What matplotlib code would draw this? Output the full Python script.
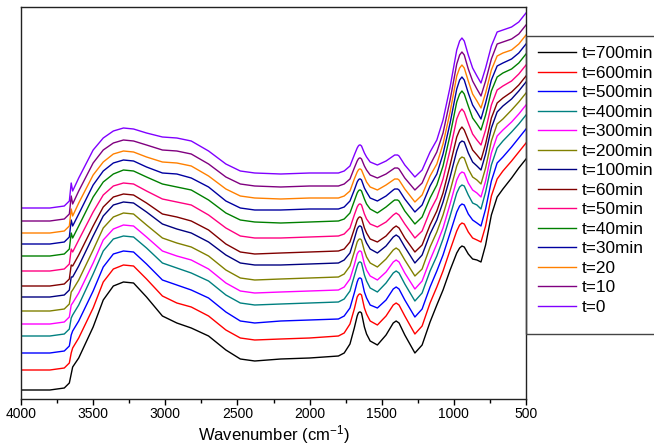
"""
plot.py

Stacked FTIR spectra recorded at different reaction times.
"""

import matplotlib
matplotlib.use('Agg')
import matplotlib.pyplot as plt
from matplotlib.patches import Rectangle

# ===== DATA =====
# wavenumber grid (cm-1) shared by all spectra
wavenumber = [4000, 3800, 3700, 3665, 3652, 3642, 3600, 3500, 3430, 3360,
              3290, 3220, 3130, 3020, 2920, 2820, 2700, 2580, 2480, 2380,
              2200, 2000,
              1800, 1760, 1720, 1690, 1670, 1662, 1655, 1648, 1640, 1620,
              1605, 1580, 1530, 1470, 1420, 1410, 1400, 1390, 1380, 1340, 1270,
              1220, 1165, 1118, 1075, 1026, 980, 960, 944, 928, 900,
              870, 840, 812, 780, 740, 700, 660, 600, 550, 500]

# absorbance (a.u. x100)
abs_t700 = [0, 0, 2, 7, 16, 23, 32, 63, 90, 104,
            108, 107, 93, 74, 67, 62, 54, 40, 31, 29, 31, 32,
            34, 37, 46, 62, 74, 77, 78, 78, 77, 63,
            56, 49, 45, 55, 67, 68, 69, 68, 67, 55, 37,
            45, 68, 85, 100, 120, 137, 142, 144, 143, 136,
            131, 130, 128, 145, 175, 193, 201, 212, 222, 231]
abs_t600 = [0, 0, 2, 7, 17, 22, 32, 62, 88, 101,
            105, 104, 91, 74, 67, 63, 54, 40, 32, 30, 31, 32,
            34, 37, 46, 61, 73, 75, 76, 76, 75, 62,
            56, 49, 45, 54, 65, 66, 67, 66, 65, 54, 36,
            44, 67, 83, 99, 120, 139, 145, 147, 146, 138,
            132, 130, 128, 144, 174, 191, 199, 209, 218, 227]
abs_t500 = [0, 0, 2, 7, 18, 22, 32, 62, 86, 99,
            102, 101, 89, 73, 68, 63, 55, 41, 32, 30, 32, 33,
            34, 37, 45, 60, 71, 74, 75, 75, 74, 61,
            55, 48, 45, 53, 64, 65, 66, 65, 64, 53, 36,
            44, 66, 82, 98, 120, 141, 147, 149, 148, 139,
            133, 130, 127, 144, 172, 190, 196, 206, 215, 224]
abs_t400 = [0, 0, 2, 7, 18, 21, 31, 62, 85, 97,
            100, 99, 88, 73, 68, 63, 55, 41, 33, 31, 32, 33,
            34, 37, 45, 60, 70, 73, 74, 74, 73, 61,
            55, 48, 44, 53, 63, 64, 65, 64, 63, 52, 35,
            43, 65, 80, 97, 120, 143, 149, 151, 150, 141,
            133, 131, 127, 144, 171, 188, 195, 204, 212, 221]
abs_t300 = [0, 0, 2, 7, 19, 21, 31, 61, 84, 95,
            99, 98, 87, 73, 68, 64, 55, 41, 33, 31, 32, 33,
            34, 37, 45, 59, 70, 72, 73, 73, 72, 60,
            54, 48, 44, 52, 62, 63, 64, 63, 62, 51, 35,
            43, 64, 80, 96, 120, 144, 150, 152, 151, 141,
            134, 131, 127, 143, 171, 188, 194, 202, 210, 219]
abs_t200 = [0, 0, 2, 7, 19, 21, 31, 61, 83, 94,
            98, 97, 86, 73, 68, 64, 55, 41, 33, 31, 32, 33,
            34, 37, 45, 59, 69, 71, 72, 72, 71, 60,
            54, 48, 44, 52, 61, 62, 63, 62, 61, 51, 35,
            42, 64, 79, 96, 120, 145, 152, 154, 153, 142,
            134, 131, 127, 143, 170, 187, 192, 201, 209, 218]
abs_t100 = [0, 0, 2, 7, 20, 20, 31, 61, 81, 92,
            95, 94, 85, 73, 68, 64, 55, 42, 34, 32, 32, 33,
            34, 37, 44, 58, 68, 70, 71, 71, 70, 59,
            54, 48, 44, 51, 60, 61, 62, 61, 60, 50, 34,
            42, 63, 77, 95, 120, 146, 154, 156, 155, 144,
            135, 131, 127, 143, 169, 185, 191, 198, 206, 215]
abs_t60 = [0, 0, 2, 7, 21, 20, 31, 60, 79, 89,
           92, 91, 83, 72, 69, 65, 56, 42, 34, 32, 33, 34,
           35, 37, 44, 57, 66, 68, 69, 69, 68, 58,
           53, 47, 44, 50, 58, 59, 60, 59, 58, 48, 34,
           41, 61, 75, 93, 121, 149, 156, 159, 156, 146,
           136, 131, 126, 142, 168, 183, 188, 194, 201, 210]
abs_t50 = [0, 0, 2, 7, 22, 19, 31, 59, 76, 85,
           88, 87, 80, 72, 69, 66, 56, 43, 35, 33, 33, 34,
           35, 37, 43, 56, 64, 66, 67, 67, 66, 57,
           52, 47, 44, 49, 56, 57, 58, 57, 56, 47, 33,
           40, 60, 73, 92, 121, 152, 159, 162, 159, 148,
           137, 131, 126, 141, 166, 181, 185, 190, 197, 206]
abs_t40 = [0, 0, 2, 7, 23, 18, 30, 59, 74, 82,
           86, 85, 79, 72, 69, 66, 56, 43, 36, 34, 33, 34,
           35, 37, 43, 55, 63, 65, 66, 66, 65, 57,
           52, 47, 43, 49, 55, 56, 56, 56, 55, 45, 32,
           39, 58, 71, 90, 121, 154, 162, 165, 162, 150,
           138, 132, 126, 141, 165, 179, 183, 187, 193, 202]
abs_t30 = [0, 0, 2, 7, 24, 18, 30, 59, 73, 81,
           84, 83, 77, 71, 70, 66, 57, 43, 36, 34, 34, 35,
           35, 37, 43, 54, 62, 64, 65, 65, 64, 56,
           52, 46, 43, 48, 54, 55, 55, 55, 54, 45, 32,
           39, 58, 70, 90, 121, 155, 164, 167, 164, 151,
           139, 132, 125, 141, 164, 178, 181, 185, 191, 200]
abs_t20 = [0, 0, 2, 7, 24, 17, 30, 58, 71, 79,
           82, 81, 76, 71, 70, 67, 57, 44, 37, 35, 34, 35,
           35, 37, 42, 54, 61, 63, 64, 64, 63, 56,
           51, 46, 43, 48, 53, 54, 54, 54, 53, 44, 31,
           38, 57, 69, 89, 121, 157, 165, 168, 165, 152,
           139, 132, 125, 140, 163, 177, 180, 183, 189, 198]
abs_t10 = [0, 0, 2, 7, 25, 17, 30, 58, 71, 78,
           81, 80, 76, 71, 70, 67, 57, 44, 37, 35, 34, 35,
           35, 37, 42, 53, 60, 62, 63, 63, 62, 55,
           51, 46, 43, 47, 52, 53, 53, 53, 52, 43, 31,
           38, 56, 69, 88, 121, 157, 166, 169, 166, 152,
           140, 132, 125, 140, 162, 177, 179, 182, 187, 196]
abs_t0 = [0, 0, 2, 7, 25, 17, 30, 58, 70, 77,
          80, 79, 75, 71, 70, 67, 57, 44, 37, 35, 34, 35,
          35, 37, 42, 53, 60, 62, 63, 63, 62, 55,
          51, 46, 43, 47, 52, 53, 53, 53, 52, 43, 31,
          38, 56, 68, 88, 121, 158, 167, 170, 167, 153,
          140, 132, 125, 140, 162, 176, 178, 181, 186, 195]

# vertical stacking offset of each trace (same order as labels)
stack_offset = [9, 29, 46, 63, 75, 88, 102, 113, 128, 143, 155, 166, 178, 191]

labels = ['t=700min', 't=600min', 't=500min', 't=400min', 't=300min',
          't=200min', 't=100min', 't=60min', 't=50min', 't=40min',
          't=30min', 't=20', 't=10', 't=0']
colors = ['#000000', '#FF0000', '#0000FF', '#008080', '#FF00FF',
          '#808000', '#000080', '#800000', '#FF0080', '#008000',
          '#0000A0', '#FF8000', '#800080', '#8000FF']

spectra = [abs_t700, abs_t600, abs_t500, abs_t400, abs_t300, abs_t200,
           abs_t100, abs_t60, abs_t50, abs_t40, abs_t30, abs_t20,
           abs_t10, abs_t0]


def make_plot():
    plt.rcParams['font.family'] = ['Liberation Sans', 'DejaVu Sans']
    plt.rcParams['mathtext.default'] = 'regular'

    fig = plt.figure(figsize=(6.54, 4.45), dpi=100)
    ax = fig.add_axes([21/654, 1 - 399/445, 505/654, 392/445])

    handles = []
    for spec, off, lab, col in zip(spectra, stack_offset, labels, colors):
        y = [v + off for v in spec]
        line, = ax.plot(wavenumber, y, color=col, lw=1.0, label=lab)
        handles.append(line)

    ax.set_xlim(4000, 500)
    ax.set_ylim(0, 392)
    ax.set_xticks(range(4000, 499, -500))
    ax.set_xticks(range(3750, 500, -500), minor=True)
    ax.set_yticks([])
    ax.tick_params(axis='x', which='major', direction='out', length=4,
                   width=1, labelsize=10, pad=2)
    ax.tick_params(axis='x', which='minor', direction='out', length=3, width=1)
    for sp in ax.spines.values():
        sp.set_linewidth(1.0)
        sp.set_color('#222222')
    ax.set_xlabel('Wavenumber (cm$^{-1}$)', fontsize=12, labelpad=1)

    # legend sits outside the axes, its frame runs off the figure edge
    fig.legend(handles, labels, loc='upper left',
               bbox_to_anchor=(538/654, 1 - 46/445), frameon=False,
               fontsize=12.4, borderpad=0, borderaxespad=0,
               handlelength=2.2, handletextpad=0.32, labelspacing=0.26)
    frame = Rectangle((526/654, 1 - 334/445), 0.3, (334 - 36)/445,
                      transform=fig.transFigure, fill=False,
                      edgecolor='#444444', lw=1.0, clip_on=False)
    fig.add_artist(frame)

    fig.savefig('out.png', dpi=100, facecolor='white')


if __name__ == "__main__":
    make_plot()
